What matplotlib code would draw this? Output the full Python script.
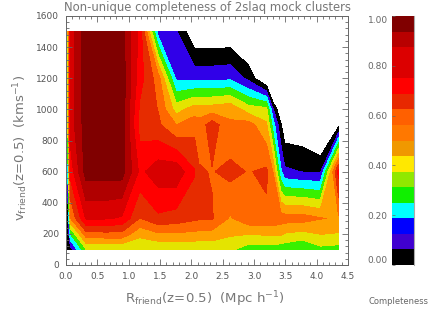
import numpy as np
import matplotlib
matplotlib.use('Agg')
import matplotlib.pyplot as plt
from matplotlib.ticker import MultipleLocator

# radius grid, the spacing is not even at the left edge and near the cliff
r_friend = [0.03, 0.07, 0.32, 0.61, 0.89, 1.18, 1.47, 1.76, 2.05, 2.12, 2.33, 2.62, 2.91, 3.2, 3.3, 3.43, 3.49, 3.77, 4.06, 4.35]
v_friend = [100, 200, 300, 600, 900, 1000, 1200, 1500]

# one list per velocity row (negative = no data, left white)
c_100 = [0.0, 0.05, 0.33, 0.335, 0.335, 0.345, 0.335, 0.335, 0.345, 0.34, 0.35, 0.35, 0.29, 0.285, 0.285, 0.28, 0.275, 0.245, 0.31, 0.30]
c_200 = [0.0, 0.25, 0.55, 0.56, 0.56, 0.44, 0.49, 0.49, 0.48, 0.475, 0.47, 0.43, 0.42, 0.43, 0.43, 0.43, 0.41, 0.39, 0.42, 0.41]
c_300 = [0.0, 0.5, 0.76, 0.76, 0.74, 0.58, 0.65, 0.63, 0.60, 0.595, 0.59, 0.49, 0.56, 0.565, 0.56, 0.545, 0.54, 0.54, 0.505, 0.49]
c_600 = [0.2, 0.7, 0.955, 0.955, 0.955, 0.73, 0.80, 0.81, 0.675, 0.594, 0.578, 0.61, 0.578, 0.60, 0.50, 0.18, 0.10, 0.08, 0.075, 0.70]
c_900 = [0.35, 0.79, 0.96, 0.97, 0.97, 0.63, 0.60, 0.50, 0.55, 0.53, 0.63, 0.51, 0.54, 0.43, 0.22, 0.01, -0.063, -0.07, -0.15, -0.03]
c_1000 = [0.35, 0.79, 0.97, 0.97, 0.97, 0.65, 0.58, 0.38, 0.46, 0.46, 0.46, 0.48, 0.375, 0.36, 0.10, -0.1, -0.2, -0.3, -0.3, -0.3]
c_1200 = [0.38, 0.79, 0.97, 0.97, 0.97, 0.70, 0.54, 0.15, 0.14, 0.14, 0.14, 0.15, 0.06, -0.11, -0.3, -0.3, -0.3, -0.3, -0.3, -0.3]
c_1500 = [0.40, 0.79, 0.97, 0.97, 0.95, 0.72, 0.13, 0.09, -0.08, -0.08, -0.08, -0.08, -0.15, -0.3, -0.3, -0.3, -0.3, -0.3, -0.3, -0.3]

contour_colors = ['#000000', '#3000e8', '#00ffff', '#38f000', '#e4e400', '#ffa000',
                  '#ff6800', '#e62c00', '#ff0000', '#d80000', '#b00000', '#800000']
bar_colors = ['#000000', '#4000d0', '#0000ff', '#00ffff', '#10f000', '#90e800', '#ffe800', '#f09800',
              '#ff7800', '#ff6000', '#e82800', '#ff0000', '#dc0000', '#dc0000', '#b80000', '#800000']
bar_ticks = [0.0, 0.2, 0.4, 0.6, 0.8, 1.0]

grey = '#666666'
plt.rcParams['text.color'] = grey
plt.rcParams['axes.labelcolor'] = grey
plt.rcParams['mathtext.default'] = 'regular'

W, H = 436, 312
fig = plt.figure(figsize=(W / 100, H / 100), dpi=100)
ax = fig.add_axes([66 / W, 1 - 265 / H, 282 / W, 249 / H])

z = np.array([c_100, c_200, c_300, c_600, c_900, c_1000, c_1200, c_1500])
ax.contourf(r_friend, v_friend, z, levels=np.linspace(0, 1, 13), colors=contour_colors)
ax.set_xlim(0, 4.5)
ax.set_ylim(0, 1600)
ax.xaxis.set_major_locator(MultipleLocator(0.5))
ax.xaxis.set_minor_locator(MultipleLocator(0.1))
ax.yaxis.set_major_locator(MultipleLocator(200))
ax.yaxis.set_minor_locator(MultipleLocator(40))
ax.xaxis.set_major_formatter('{x:.1f}')
ax.tick_params(which='both', direction='in', top=True, right=True, color=grey, labelcolor='#555555', labelsize=6.5, width=0.6)
ax.tick_params(which='major', length=4.5, pad=5)
ax.tick_params(which='minor', length=2)
for s in ax.spines.values():
    s.set_color(grey)
    s.set_linewidth(0.7)

fig.text(207 / W, 1 - 7 / H, 'Non-unique completeness of 2slaq mock clusters', ha='center', va='center', fontsize=8.4, color='#777777')
fig.text(205 / W, 1 - 299 / H, r'R$_{friend}$(z=0.5)  (Mpc h$^{-1}$)', ha='center', va='center', fontsize=9.5, color='#777777')
fig.text(21 / W, 1 - 148 / H, r'v$_{friend}$(z=0.5)  (kms$^{-1}$)', ha='center', va='center', rotation=90, fontsize=9.5, color='#777777')

cax = fig.add_axes([392 / W, 1 - 265 / H, 22 / W, 249 / H])
edges = np.linspace(0, 1, len(bar_colors) + 1)
for i in range(len(bar_colors)):
    cax.axhspan(edges[i], edges[i + 1], color=bar_colors[i], lw=0)
cax.set_ylim(0, 1)
cax.set_xlim(0, 1)
cax.set_xticks([])
cax.set_yticks(bar_ticks)
cax.set_yticklabels(['%.2f' % t for t in bar_ticks])
cax.tick_params(direction='in', length=2, width=0.5, color=grey, labelcolor='#666666', labelsize=6.5, pad=3)
cax.get_yticklabels()[0].set_va('bottom')
cax.get_yticklabels()[-1].set_va('top')
for s in cax.spines.values():
    s.set_visible(False)
cax.spines['right'].set_visible(True)
cax.spines['right'].set_color('#aaaaaa')

fig.text(398 / W, 1 - 302 / H, 'Completeness', ha='center', va='center', fontsize=6, color='#666666')

fig.savefig('out.png', dpi=100)
